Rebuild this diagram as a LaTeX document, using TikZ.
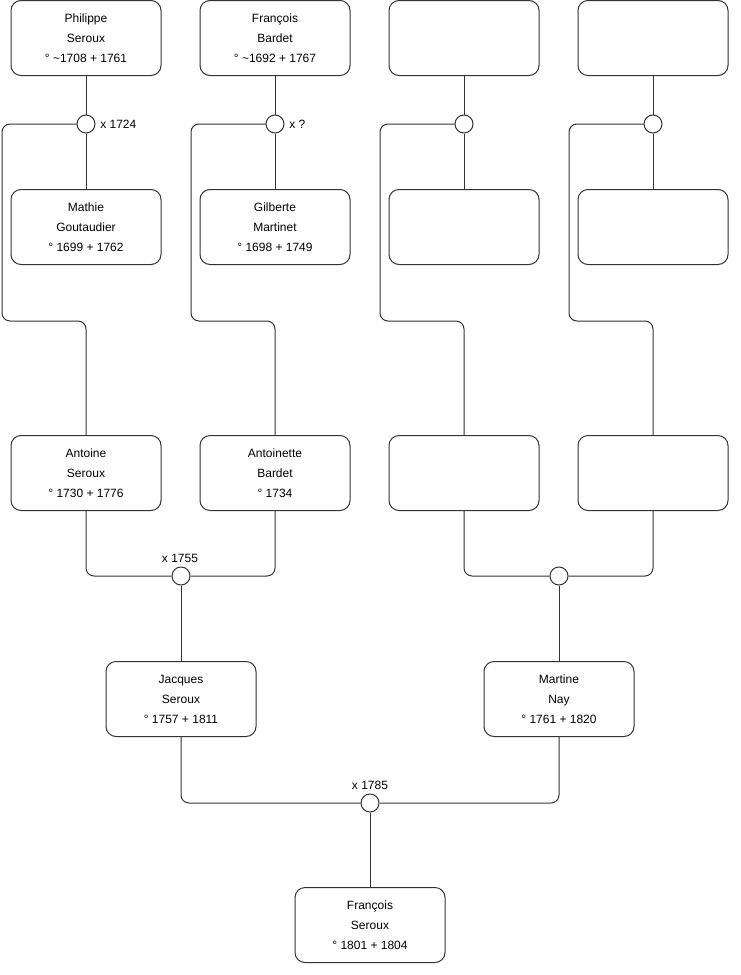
\documentclass[tikz,border=0pt]{standalone}
\usepackage{fontspec}
\setmainfont{Liberation Sans}
\begin{document}
\begin{tikzpicture}[x=0.75pt,y=-0.75pt,
  person/.style={draw=black!80, line width=0.75pt, rounded corners=7.5pt, minimum width=112.5pt, minimum height=56.25pt, align=center, inner sep=0pt, font=\fontsize{9}{15}\selectfont},
  union/.style={draw=black!80, fill=white, circle, line width=0.75pt, minimum size=13.5pt, inner sep=0pt},
  conn/.style={draw=black!80, line width=0.75pt, rounded corners=6pt},
  lbl/.style={font=\fontsize{9}{11}\selectfont, inner sep=0pt}]
\useasboundingbox (0,0) rectangle (740,975);
% row 1
\node[person] (p1) at (86,38) {Philippe\\Seroux\\° \textasciitilde1708 + 1761};
\node[person] (p2) at (275,38) {François\\Bardet\\° \textasciitilde1692 + 1767};
\node[person] (p3) at (464,38) {};
\node[person] (p4) at (653,38) {};
% row 2
\node[person] (m1) at (86,227) {Mathie\\Goutaudier\\° 1699 + 1762};
\node[person] (m2) at (275,227) {Gilberte\\Martinet\\° 1698 + 1749};
\node[person] (m3) at (464,227) {};
\node[person] (m4) at (653,227) {};
% row 3
\node[person] (a1) at (86,473) {Antoine\\Seroux\\° 1730 + 1776};
\node[person] (a2) at (275,473) {Antoinette\\Bardet\\° 1734};
\node[person] (a3) at (464,473) {};
\node[person] (a4) at (653,473) {};
% row 4
\node[person] (j) at (181,699) {Jacques\\Seroux\\° 1757 + 1811};
\node[person] (n) at (559,699) {Martine\\Nay\\° 1761 + 1820};
% row 5
\node[person] (f) at (370,925) {François\\Seroux\\° 1801 + 1804};
% unions
\node[union] (c1) at (86,124) {};
\node[union] (c2) at (275,124) {};
\node[union] (c3) at (464,124) {};
\node[union] (c4) at (653,124) {};
\node[union] (c5) at (181,576) {};
\node[union] (c6) at (559,576) {};
\node[union] (c7) at (370,803) {};
% labels
\node[lbl, anchor=west] (l1) at (100,124) {x 1724};
\node[lbl, anchor=west] (l2) at (289,124) {x ?};
\node[lbl] (l5) at (180,558) {x 1755};
\node[lbl] (l7) at (370,785) {x 1785};
% connectors
\foreach \i in {1,2,3,4}{
  \draw[conn] (p\i.south) -- (c\i.north);
  \draw[conn] (c\i.south) -- (m\i.north);
}
\draw[conn] (c1.west) -| (2,321) -| (a1.north);
\draw[conn] (c2.west) -| (191,321) -| (a2.north);
\draw[conn] (c3.west) -| (380,321) -| (a3.north);
\draw[conn] (c4.west) -| (569,321) -| (a4.north);
\draw[conn] (a1.south) |- (c5.west);
\draw[conn] (a2.south) |- (c5.east);
\draw[conn] (a3.south) |- (c6.west);
\draw[conn] (a4.south) |- (c6.east);
\draw[conn] (c5.south) -- (j.north);
\draw[conn] (c6.south) -- (n.north);
\draw[conn] (j.south) |- (c7.west);
\draw[conn] (n.south) |- (c7.east);
\draw[conn] (c7.south) -- (f.north);
\end{tikzpicture}
\end{document}
